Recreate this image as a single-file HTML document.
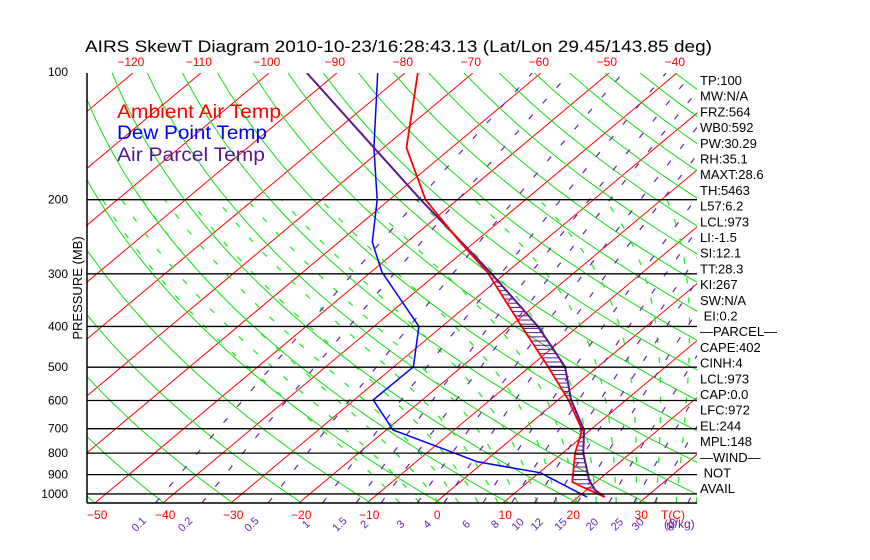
<!DOCTYPE html>
<html><head><meta charset="utf-8"><style>
html,body{margin:0;padding:0;background:#fff;}
svg{display:block;font-family:"Liberation Sans",sans-serif;}
</style></head><body>
<svg id="chart" width="870" height="560" viewBox="0 0 870 560" xmlns="http://www.w3.org/2000/svg">
<defs><clipPath id="plotclip"><rect x="87" y="73" width="610" height="430"/></clipPath></defs>
<text x="85" y="52" font-size="17" textLength="627" lengthAdjust="spacingAndGlyphs">AIRS SkewT Diagram 2010-10-23/16:28:43.13 (Lat/Lon 29.45/143.85 deg)</text>
<g id="grid" clip-path="url(#plotclip)"></g>
<g id="series" clip-path="url(#plotclip)"></g>
<g id="axes"></g>
<text transform="translate(82,288) rotate(-90)" text-anchor="middle" font-size="13">PRESSURE (MB)</text>
<text x="117" y="118" font-size="19" fill="#ff0000" textLength="164" lengthAdjust="spacingAndGlyphs">Ambient Air Temp</text>
<text x="117" y="139" font-size="19" fill="#0000ff" textLength="150" lengthAdjust="spacingAndGlyphs">Dew Point Temp</text>
<text x="117" y="161" font-size="19" fill="#5a1890" textLength="148" lengthAdjust="spacingAndGlyphs">Air Parcel Temp</text>
<g id="stats"></g>
</svg>
<script>
const tempP=[100,150.6,200,252,297,400,499,598,705,799,937,962,1017];
const tempT=[-78.1,-66.6,-54.7,-42.2,-32.9,-18.3,-7.3,1.5,8.8,11.8,16.5,18.8,23.9];
const dewP=[100,150.6,200,252,297,400,499,598,705,777,839,891,978,1017];
const dewT=[-84,-71.4,-61.8,-55.1,-48.4,-33.4,-27.1,-27.2,-19.0,-8.9,-1.0,10.2,18.0,21.3];
const parcelP=[100,200,252,297,400,499,598,705,799,926,978,1017];
const parcelT=[-94.4,-55.4,-42,-32.5,-15.9,-4.8,1.9,9.1,13.0,18.6,21.2,23.9];
const isobars=[200,300,400,500,600,700,800,900,1000];
const pressureLabels=["100","200","300","400","500","600","700","800","900","1000"];
const pressureLabelVals=[100,200,300,400,500,600,700,800,900,1000];
const topTemps=[-120,-110,-100,-90,-80,-70,-60,-50,-40];
const bottomTemps=[-50,-40,-30,-20,-10,0,10,20,30];
const mixRatios=[0.1,0.2,0.5,1,1.5,2,3,4,6,8,10,12,15,20,25,30,40];
const stats=["TP:100","MW:N/A","FRZ:564","WB0:592","PW:30.29","RH:35.1","MAXT:28.6","TH:5463","L57:6.2","LCL:973","LI:-1.5","SI:12.1","TT:28.3","KI:267","SW:N/A"," EI:0.2","\u2014PARCEL\u2014","CAPE:402","CINH:4","LCL:973","CAP:0.0","LFC:972","EL:244","MPL:148","\u2014WIND\u2014"," NOT","AVAIL"];

const NS="http://www.w3.org/2000/svg";
function yP(p){return 73+182.8*Math.log(p/100);}
function xT(T,p){return 435+6.8*T+(503-yP(p))*1.195;}
function mk(tag,attrs,parent){const e=document.createElementNS(NS,tag);for(const k in attrs)e.setAttribute(k,attrs[k]);parent.appendChild(e);return e;}
const grid=document.getElementById('grid'),series=document.getElementById('series'),axes=document.getElementById('axes'),statsG=document.getElementById('stats');
function poly(pts,parent,stroke,w,dash){const e=mk('polyline',{points:pts.map(q=>q[0].toFixed(1)+','+q[1].toFixed(1)).join(' '),fill:'none',stroke:stroke,'stroke-width':w},parent);if(dash)e.setAttribute('stroke-dasharray',dash);return e;}

for(let T=-160;T<=50;T+=10){
  const l=poly([[xT(T,1050),yP(1050)],[xT(T,100),yP(100)]],grid,'#ff0000',1);
  
  
}
for(let th=200;th<=520;th+=10){
  const pts=[];
  for(let p=1050;p>=100;p-=10){const T=th*Math.pow(p/1000,0.286)-273.15;pts.push([xT(T,p),yP(p)]);}
  const l=poly(pts,grid,'#11dd11',1);
  
  
}
function es(T){return 6.112*Math.exp(17.67*T/(T+243.5));}
function dTdp(T,p){const Tk=T+273.15,e=es(T),rs=0.622*e/(p-e),L=2.5e6;return (287*Tk+L*rs)/(1004+L*L*rs*0.622/(287*Tk*Tk))/p;}
for(let T0=-8;T0<=44;T0+=3){
  let T=T0,p=1000;
  for(let i=0;i<50;i++){T+=dTdp(T,p)*1;p+=1;}
  const pts=[[xT(T,p),yP(p)]];
  while(p>200){T-=dTdp(T,p)*2;p-=2;if(p%10===0)pts.push([xT(T,p),yP(p)]);}
  const l=poly(pts,grid,'#22ee22',1.3,'6,14');
  
  
}
function tdFromW(w,p){const e=w*p/(622+w);const a=Math.log(e/6.112);return 243.5*a/(17.67-a);}
mixRatios.forEach(w=>{
  const pts=[];
  for(let p=1050;p>=100;p-=10)pts.push([xT(tdFromW(w,p),p),yP(p)]);
  const l=poly(pts,grid,'#6a1fb0',1.2,'6,15');
  
  
  const x=xT(tdFromW(w,1050),1050)-17;
  const t=mk('text',{x:x,y:528,'font-size':11,fill:'#6a1fb0','text-anchor':'middle',transform:'rotate(-45 '+x+' 524)'},axes);
  t.textContent=String(w);
  
  
});
{const t=mk('text',{x:664,y:528,'font-size':12,fill:'#6a1fb0'},axes);t.textContent='(g/kg)';

}
isobars.forEach(p=>{
  const l=mk('line',{x1:87,x2:697,y1:yP(p),y2:yP(p),stroke:'#000','stroke-width':1.3},axes);
  
  
});
mk('line',{x1:87,x2:87,y1:73,y2:503,stroke:'#000','stroke-width':1.5},axes);
mk('line',{x1:87,x2:697,y1:503,y2:503,stroke:'#000','stroke-width':1.5},axes);
pressureLabelVals.forEach((p,i)=>{
  const t=mk('text',{x:68,y:yP(p)+(p===100?-1:0)+4,'font-size':12,'text-anchor':'end'},axes);
  t.textContent=pressureLabels[i];
  
  
});
topTemps.forEach(T=>{
  const t=mk('text',{x:xT(T,100)-2,y:66,'font-size':12,fill:'#ff0000','text-anchor':'middle'},axes);
  t.textContent=String(T).replace('-','\u2212');
  
  
});
bottomTemps.forEach(T=>{
  const t=mk('text',{x:xT(T,1050)+2,y:519,'font-size':12,fill:'#ff0000','text-anchor':'middle'},axes);
  t.textContent=String(T).replace('-','\u2212');
  
  
});
{const t=mk('text',{x:673,y:519,'font-size':12,fill:'#ff0000','text-anchor':'middle'},axes);t.textContent='T(C)';

}

function pix(P,T){return P.map((p,i)=>[xT(T[i],p),yP(p)]);}
const tPts=pix(tempP,tempT),pPts=pix(parcelP,parcelT),dPts=pix(dewP,dewT);
function xAt(pts,y){for(let i=0;i<pts.length-1;i++){const a=pts[i],b=pts[i+1];if(y>=a[1]&&y<=b[1]){const f=(y-a[1])/(b[1]-a[1]||1);return a[0]+f*(b[0]-a[0]);}}return null;}
for(let y=yP(300);y<=yP(1000);y+=4.2){
  const xt=xAt(tPts,y),xp=xAt(pPts,y);
  if(xt!==null&&xp!==null&&Math.abs(xp-xt)>2){
    const h=mk('line',{x1:xt,x2:xp,y1:y,y2:y,stroke:'#5a1890','stroke-width':1},series);
    
    
  }
}
{const l=poly(dPts,series,'#0000ff',1.5);}
{const l=poly(pPts,series,'#5a1890',2);}
{const l=poly(tPts,series,'#ff0000',1.8);}

stats.forEach((s,i)=>{
  const t=mk('text',{x:700,y:85+i*15.7,'font-size':13},statsG);
  t.textContent=s.replace(/^ /,'\u00a0');
  
  
});
</script>
</body></html>
